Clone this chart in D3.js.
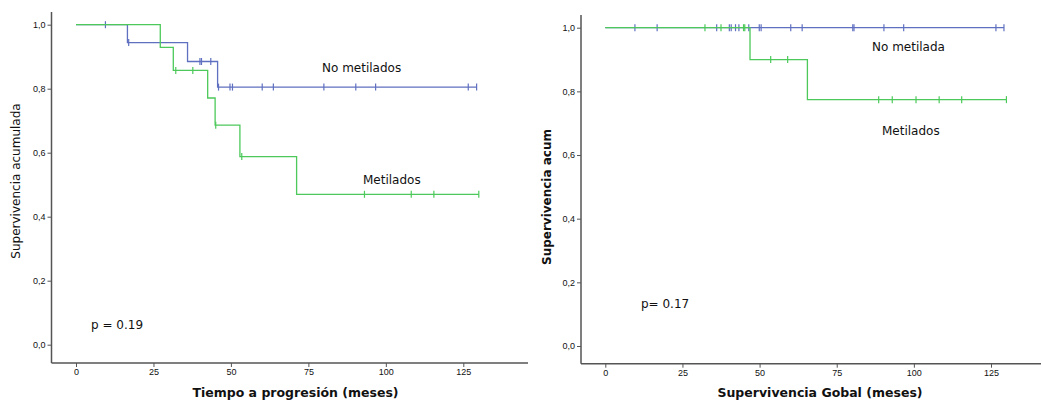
<!DOCTYPE html>
<html>
<head>
<meta charset="utf-8">
<script src="https://cdn.jsdelivr.net/npm/d3@7"></script>
<style>
  body { margin: 0; background: #fff; }
  svg { display: block; }
  text { font-family: "DejaVu Sans", sans-serif; fill: #111; }
</style>
</head>
<body>
<div id="chart"></div>
<script>
// Left panel: Tiempo a progresion
var leftBlueSteps = [[0, 1], [16.6, 0.944], [36, 0.885], [45.7, 0.805]];
var leftBlueEnd = 129.3;
var leftBlueCensor = [9.5, 17, 40, 40.5, 43.5, 46, 49.7, 50.5, 60.1, 63.7, 80, 90.3, 96.7, 126.6, 129.3];
var leftGreenSteps = [[0, 1], [27.2, 0.929], [31.4, 0.857], [42.5, 0.771], [44.9, 0.686], [52.9, 0.588], [71.2, 0.47]];
var leftGreenEnd = 130;
var leftGreenCensor = [32.2, 37.7, 45.1, 53.5, 93.1, 108.2, 115.5, 130];

// Right panel: Supervivencia global
var rightBlueSteps = [[0, 1]];
var rightBlueEnd = 129.2;
var rightBlueCensor = [9.6, 16.8, 36.1, 40.2, 40.8, 42.2, 43.3, 46.5, 49.9, 50.5, 60.1, 63.8, 80.2, 80.6, 90.3, 96.7, 126.6, 129.2];
var rightGreenSteps = [[0, 1], [46.9, 0.90], [65.5, 0.774]];
var rightGreenEnd = 130;
var rightGreenCensor = [32.3, 37.5, 44.8, 45.2, 53.6, 59.1, 88.6, 93, 100.7, 108.2, 115.5, 130];

var xTicks = [0, 25, 50, 75, 100, 125];
var yTicks = [0, 0.2, 0.4, 0.6, 0.8, 1.0];

var blue = "#6070c0", green = "#4cc95a";

var svg = d3.select("#chart").append("svg")
  .attr("width", 1043)
  .attr("height", 403);

function panel(opt) {
  var g = svg.append("g");
  var x = d3.scaleLinear().domain([0, 125]).range([opt.x0, opt.x125]);
  var y = d3.scaleLinear().domain([0, 1]).range([opt.y0, opt.y1]);

  // axis frame lines
  g.append("line")
    .attr("x1", opt.left).attr("x2", opt.left)
    .attr("y1", opt.top).attr("y2", opt.bottom)
    .attr("stroke", "#555").attr("stroke-width", 1.5);
  g.append("line")
    .attr("x1", opt.left).attr("x2", opt.right)
    .attr("y1", opt.bottom).attr("y2", opt.bottom)
    .attr("stroke", "#555").attr("stroke-width", 1.5);

  var ya = d3.axisLeft(y).tickValues(yTicks).tickSize(4).tickFormat(function(d) {
    return d3.format(".1f")(d).replace(".", ",");
  });
  var yg = g.append("g").attr("transform", "translate(" + opt.left + ",0)").call(ya);
  yg.select(".domain").remove();
  yg.selectAll(".tick line").attr("stroke", "#555");
  yg.selectAll(".tick text").attr("x", -6).style("font-size", "9px").style("font-family", "Liberation Sans, sans-serif").attr("fill", "#222");

  var xa = d3.axisBottom(x).tickValues(xTicks).tickSize(4);
  var xg = g.append("g").attr("transform", "translate(0," + opt.bottom + ")").call(xa);
  xg.select(".domain").remove();
  xg.selectAll(".tick line").attr("stroke", "#555");
  xg.selectAll(".tick text").attr("y", 6).style("font-size", "9px").style("font-family", "Liberation Sans, sans-serif").attr("fill", "#222");

  var line = d3.line()
    .x(function(d) { return x(d[0]); })
    .y(function(d) { return y(d[1]); })
    .curve(d3.curveStepAfter);

  function curve(steps, end, censor, color) {
    var pts = steps.concat([[end, steps[steps.length - 1][1]]]);
    g.append("path").datum(pts)
      .attr("d", line)
      .attr("fill", "none")
      .attr("stroke", color)
      .attr("stroke-width", 1.3);
    function survAt(t) {
      var v = 1;
      steps.forEach(function(s) { if (s[0] <= t) v = s[1]; });
      return v;
    }
    g.selectAll(null).data(censor).enter().append("line")
      .attr("x1", function(d) { return x(d); })
      .attr("x2", function(d) { return x(d); })
      .attr("y1", function(d) { return y(survAt(d)) - 3.5; })
      .attr("y2", function(d) { return y(survAt(d)) + 3.5; })
      .attr("stroke", color)
      .attr("stroke-width", 1.2);
  }
  curve(opt.blue[0], opt.blue[1], opt.blue[2], blue);
  curve(opt.green[0], opt.green[1], opt.green[2], green);

  opt.labels.forEach(function(l) {
    g.append("text").attr("x", l[1]).attr("y", l[2])
      .style("font-size", "12px").text(l[0]);
  });

  g.append("text")
    .attr("x", opt.titleX).attr("y", 397)
    .attr("text-anchor", "middle")
    .style("font-size", "12.5px").style("font-weight", "bold")
    .text(opt.xTitle);
  g.append("text")
    .attr("transform", "translate(" + opt.yTitleX + "," + opt.yTitleY + ") rotate(-90)")
    .attr("text-anchor", "middle")
    .style("font-size", "12px").style("font-weight", opt.yBold ? "bold" : "normal")
    .text(opt.yTitle);
}

panel({
  x0: 76, x125: 463.3, y0: 344.7, y1: 24.7,
  left: 51.5, right: 528, top: 12, bottom: 363,
  blue: [leftBlueSteps, leftBlueEnd, leftBlueCensor],
  green: [leftGreenSteps, leftGreenEnd, leftGreenCensor],
  labels: [["No metilados", 322, 72], ["Metilados", 363, 184], ["p = 0.19", 91, 329]],
  xTitle: "Tiempo a progresión (meses)", titleX: 295.5,
  yTitle: "Supervivencia acumulada", yTitleX: 20, yTitleY: 181, yBold: false
});

panel({
  x0: 605.3, x125: 991, y0: 346, y1: 27.7,
  left: 581, right: 1041, top: 15, bottom: 363.7,
  blue: [rightBlueSteps, rightBlueEnd, rightBlueCensor],
  green: [rightGreenSteps, rightGreenEnd, rightGreenCensor],
  labels: [["No metilada", 872, 51], ["Metilados", 882, 135], ["p= 0.17", 641, 308]],
  xTitle: "Supervivencia Gobal (meses)", titleX: 820,
  yTitle: "Supervivencia acum", yTitleX: 551, yTitleY: 197, yBold: true
});
</script>
</body>
</html>
